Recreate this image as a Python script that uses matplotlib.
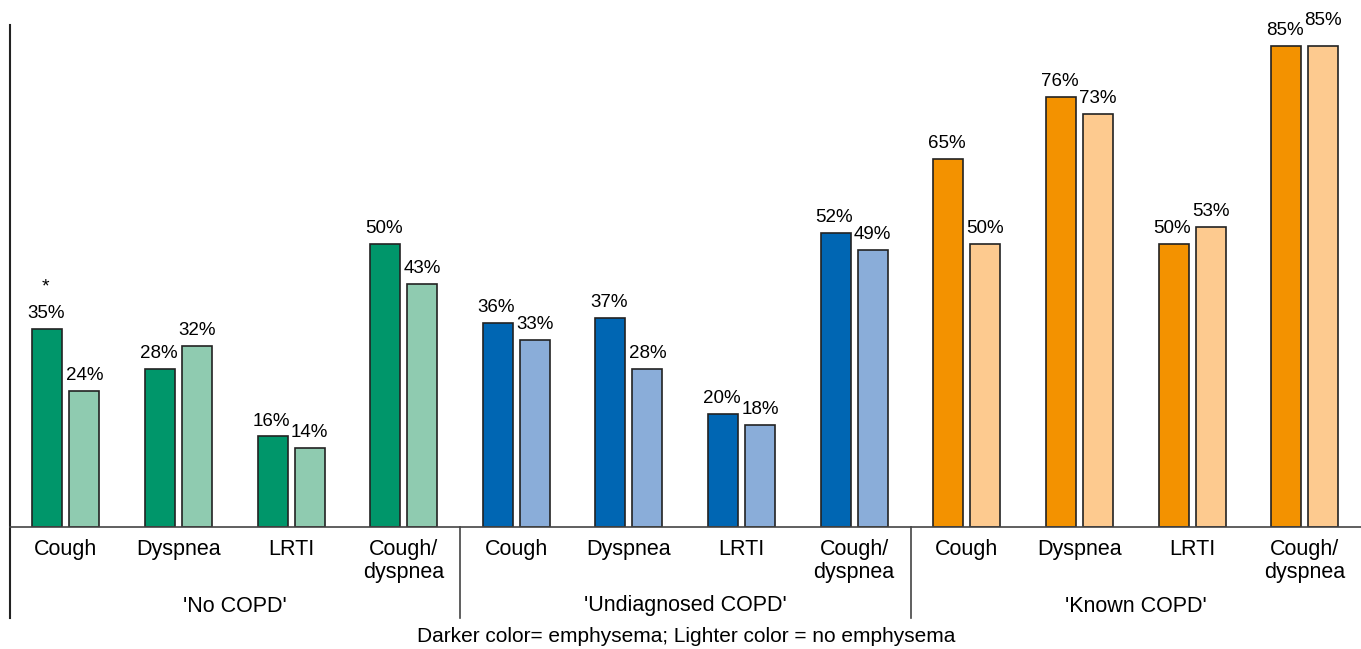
import matplotlib
matplotlib.use("Agg")
import matplotlib.pyplot as plt

plt.rcParams['font.family'] = ['Liberation Sans', 'DejaVu Sans']

categories = ["Cough", "Dyspnea", "LRTI", "Cough/\ndyspnea"]
groups = ["'No COPD'", "'Undiagnosed COPD'", "'Known COPD'"]
emphysema = [35, 28, 16, 50, 36, 37, 20, 52, 65, 76, 50, 85]
no_emphysema = [24, 32, 14, 43, 33, 28, 18, 49, 50, 73, 53, 85]
dark_colors = ["#00966a", "#0066b3", "#f39200"]
light_colors = ["#8fcbb0", "#8aadd9", "#fdca8f"]
footer = "Darker color= emphysema; Lighter color = no emphysema"

W, H = 1361, 649
fig = plt.figure(figsize=(W / 100, H / 100), dpi=100)
y0_px, ytop_px, xl_px = 527, 25, 9.5
ax = fig.add_axes([xl_px / W, (H - y0_px) / H, 1 - xl_px / W, (y0_px - ytop_px) / H])
ax.set_xlim(-0.5, 11.5)
ax.set_ylim(0, 88.7)
ax.axis('off')

ax_h = y0_px - ytop_px
def fy(px):  # pixel y -> axes fraction
    return (y0_px - px) / ax_h

off = 0.164
bw = 0.266
n = len(emphysema)
for i in range(n):
    g = i // 4
    ax.bar(i - off, emphysema[i], bw, color=dark_colors[g], edgecolor='#222222', linewidth=1.2, zorder=2)
    ax.bar(i + off, no_emphysema[i], bw, color=light_colors[g], edgecolor='#222222', linewidth=1.2, zorder=2)
    ax.annotate(f"{emphysema[i]}%", (i - off, emphysema[i]), xytext=(-1, 5), textcoords='offset points',
                ha='center', va='bottom', fontsize=13.5)
    extra = 7 if i == n - 1 else 0
    ax.annotate(f"{no_emphysema[i]}%", (i + off, no_emphysema[i]), xytext=(0, 5 + extra), textcoords='offset points',
                ha='center', va='bottom', fontsize=13.5)

# asterisk
ax.annotate("*", (0 - off, emphysema[0]), xytext=(-1, 24), textcoords='offset points',
            ha='center', va='bottom', fontsize=14)

tr = ax.get_xaxis_transform()
# baseline
ax.plot([-0.5, 11.5], [0, 0], color='#444444', lw=1.2, transform=tr, clip_on=False, zorder=3)
# left line
ax.plot([-0.5, -0.5], [fy(618), 1], color='#222222', lw=1.5, transform=tr, clip_on=False)
# separators
for s in [3.5, 7.5]:
    ax.plot([s, s], [fy(618), 0], color='#444444', lw=1.2, transform=tr, clip_on=False)

for i in range(n):
    ax.text(i, fy(539), categories[i % 4], transform=tr, ha='center', va='top', fontsize=15.5,
            linespacing=1.12)
for g in range(3):
    ax.text(4 * g + 1.5, fy(606), groups[g], transform=tr, ha='center', va='center', fontsize=15.5)

fig.text(686 / W, 1 - 637 / H, footer, ha='center', va='center', fontsize=15)

fig.savefig("out.png", dpi=100)
